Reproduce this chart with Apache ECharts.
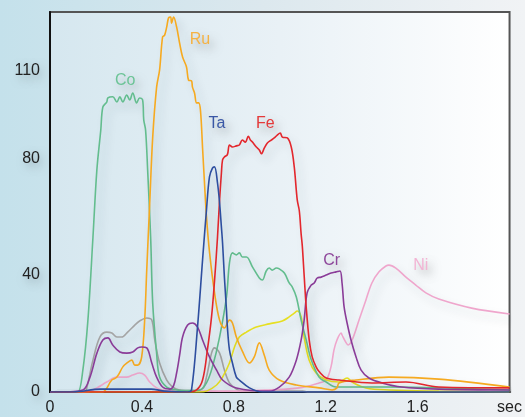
<!DOCTYPE html>
<html>
<head>
<meta charset="utf-8">
<script src="https://cdn.jsdelivr.net/npm/echarts@6/dist/echarts.min.js"></script>
<style>
html,body{margin:0;padding:0;}
#chart{width:525px;height:417px;}
</style>
</head>
<body>
<div id="chart"></div>
<script>
// x: seconds, y: signal
const xTickLabels = ['0', '0.4', '0.8', '1.2', '1.6', 'sec'];
const yTickLabels = [0, 40, 80, 110];

const grayData = [[0,0],[0.15,0],[0.161,1.7],[0.187,10.9],[0.217,18.8],[0.247,20.5],[0.269,20.2],[0.291,18.8],[0.312,18.8],[0.338,20.5],[0.369,22.9],[0.390,24.3],[0.421,25.3],[0.443,24.6],[0.456,17.8],[0.477,9.9],[0.508,4.1],[0.534,1.7],[0.564,0.7],[0.62,0.5],[0.664,1.2],[0.681,5.1],[0.703,13.3],[0.716,15.1],[0.738,13.3],[0.759,7.5],[0.781,3.1],[0.811,1.0],[0.837,0.3],[1.1,0.3],[1.12,0],[2.0,0]];

const niData = [[0,0],[0.16,0],[0.204,1.4],[0.247,3.4],[0.291,5.1],[0.334,5.1],[0.360,5.8],[0.390,6.5],[0.412,5.8],[0.434,3.4],[0.464,1.4],[0.490,0.7],[0.55,0.3],[0.8,0.3],[0.95,0.7],[1.085,1.4],[1.171,3.1],[1.202,4.1],[1.223,8.6],[1.236,14.4],[1.249,17.8],[1.267,20.2],[1.271,19.5],[1.289,16.8],[1.297,16.1],[1.315,17.8],[1.345,24.6],[1.375,31.5],[1.401,37.3],[1.432,41.1],[1.462,43.1],[1.475,43.4],[1.505,42.4],[1.549,39.3],[1.592,36.6],[1.636,33.9],[1.692,31.8],[1.835,28.7],[2.0,26.7]];

const yellowData = [[0,0],[0.65,0],[0.681,0.3],[0.725,2.4],[0.751,5.1],[0.781,9.9],[0.803,15.4],[0.824,18.8],[0.855,20.5],[0.898,22.2],[0.954,23.3],[1.011,24.3],[1.041,25.7],[1.063,27.0],[1.076,27.7],[1.093,25.7],[1.106,18.8],[1.128,10.9],[1.158,6.5],[1.202,4.1],[1.258,3.4],[1.293,4.8],[1.315,3.4],[1.375,1.4],[1.475,0.7],[1.692,0.3],[2.0,0]];

const coData = [[0,0],[0.10,0],[0.121,0],[0.143,7.5],[0.165,24.6],[0.187,53.0],[0.204,76.0],[0.221,89.6],[0.230,97.5],[0.247,99.2],[0.252,100.6],[0.273,101.0],[0.291,99.2],[0.304,101.0],[0.317,99.2],[0.334,101.6],[0.347,99.9],[0.360,102.3],[0.377,98.9],[0.390,100.6],[0.403,99.9],[0.408,93.1],[0.416,89.6],[0.425,75.9],[0.438,53.0],[0.447,30.4],[0.464,13.3],[0.477,5.1],[0.508,1.7],[0.551,0.7],[0.60,0.5],[0.65,0.6],[0.681,3.1],[0.707,8.6],[0.738,18.8],[0.768,32.5],[0.781,44.1],[0.794,47.6],[0.811,46.9],[0.824,47.6],[0.837,46.2],[0.855,46.2],[0.881,42.8],[0.911,39.0],[0.924,38.3],[0.941,41.4],[0.954,42.4],[0.967,41.7],[0.985,42.4],[0.998,42.1],[1.020,40.7],[1.041,37.3],[1.054,36.0],[1.072,32.5],[1.093,24.6],[1.115,17.8],[1.137,11.0],[1.171,5.1],[1.202,3.4],[1.245,1.7],[1.332,1.7],[1.475,1.7],[2.0,0.7]];

const ruData = [[0,0],[0.226,0],[0.269,4.1],[0.291,5.1],[0.317,8.6],[0.334,9.9],[0.356,10.9],[0.369,9.2],[0.382,9.2],[0.399,12.0],[0.412,24.6],[0.421,41.7],[0.434,64.7],[0.447,87.2],[0.464,104.3],[0.477,110.2],[0.490,121.5],[0.499,122.1],[0.508,124.9],[0.516,128.0],[0.525,128.3],[0.529,126.2],[0.538,128.3],[0.551,124.9],[0.564,119.4],[0.577,114.6],[0.594,111.2],[0.603,106.7],[0.616,106.4],[0.620,104.3],[0.629,102.3],[0.638,98.9],[0.647,98.9],[0.655,96.2],[0.664,83.5],[0.672,72.0],[0.681,60.0],[0.694,48.0],[0.716,34.0],[0.738,24.6],[0.759,21.9],[0.781,24.6],[0.794,23.6],[0.811,18.8],[0.837,14.0],[0.868,9.9],[0.889,12.0],[0.911,16.8],[0.933,12.5],[0.954,7.5],[0.998,4.1],[1.072,2.4],[1.171,1.4],[1.228,0.7],[1.249,1.4],[1.258,3.1],[1.332,4.1],[1.475,5.1],[1.692,4.4],[2.0,1.7]];

const crData = [[0,0],[0.043,0],[0.143,0.7],[0.174,5.1],[0.204,13.3],[0.230,17.8],[0.252,18.5],[0.273,16.1],[0.304,13.7],[0.334,13.3],[0.360,13.7],[0.382,15.1],[0.399,15.4],[0.421,15.1],[0.443,9.9],[0.464,5.1],[0.490,1.7],[0.521,1.0],[0.538,2.2],[0.551,6.5],[0.564,12.5],[0.577,18.8],[0.599,22.9],[0.620,23.6],[0.642,22.2],[0.664,17.8],[0.694,12.0],[0.725,7.5],[0.751,4.1],[0.811,1.4],[0.954,0.3],[0.998,1.7],[1.041,5.1],[1.072,10.9],[1.093,17.8],[1.106,24.6],[1.119,33.9],[1.137,36.6],[1.150,37.3],[1.163,39.0],[1.180,39.3],[1.202,40.0],[1.223,40.7],[1.245,41.1],[1.262,41.4],[1.271,37.3],[1.280,29.1],[1.293,23.6],[1.310,17.8],[1.332,12.0],[1.354,7.5],[1.388,4.8],[1.445,3.1],[1.531,1.7],[1.692,1.0],[2.0,0.7]];

const feData = [[0,0],[0.60,0],[0.638,0.7],[0.664,4.1],[0.685,14.4],[0.703,25.7],[0.716,38.0],[0.729,53.0],[0.738,65.7],[0.746,74.9],[0.751,79.4],[0.759,80.4],[0.772,81.2],[0.781,84.5],[0.794,83.8],[0.811,84.2],[0.824,84.5],[0.837,86.2],[0.850,85.5],[0.863,87.5],[0.872,86.2],[0.881,85.5],[0.898,83.8],[0.911,82.8],[0.920,81.5],[0.933,83.5],[0.946,85.2],[0.963,86.2],[0.976,86.9],[0.989,87.9],[1.002,88.6],[1.011,87.2],[1.033,86.9],[1.050,83.8],[1.063,77.0],[1.076,65.7],[1.085,62.0],[1.093,54.0],[1.098,50.0],[1.106,40.0],[1.115,29.1],[1.128,17.8],[1.141,12.0],[1.158,8.6],[1.171,7.0],[1.202,4.8],[1.258,4.1],[1.401,3.1],[1.549,3.4],[1.692,1.7],[2.0,1.4]];

const taData = [[0,0],[0.10,0],[0.22,1.0],[0.44,1.0],[0.50,0.3],[0.60,0],[0.616,0.7],[0.642,22.2],[0.664,45.2],[0.681,62.3],[0.694,73.6],[0.707,76.6],[0.716,77.0],[0.729,71.5],[0.738,64.7],[0.746,56.4],[0.751,51.0],[0.759,39.3],[0.768,28.1],[0.772,22.2],[0.781,14.4],[0.794,9.9],[0.811,5.1],[0.824,4.1],[0.868,1.4],[0.924,0],[2.0,0]];

const seriesNames = ['', 'Ni', '', 'Co', 'Ru', 'Cr', 'Fe', 'Ta'];
const seriesColors = ['#a5a5a5', '#efa6cc', '#e6df22', '#63bd8e', '#f6aa20', '#8a3c98', '#e3272d', '#2d4e9f'];
const labelColors = ['#a5a5a5', '#f2b4d4', '#e6df22', '#6cc497', '#f5b244', '#8e479b', '#e43a3a', '#3a58a6'];
const seriesData = [grayData, niData, yellowData, coData, ruData, crData, feData, taData];
// label anchor points (sec, value)
const labelAnchors = [null, [1.614, 43.4], null, [0.327, 106.4], [0.653, 120.4], [1.226, 44.8], [0.937, 91.9], [0.727, 91.9]];

const chart = echarts.init(document.getElementById('chart'), null, {renderer: 'canvas'});

const series = seriesData.map((d, i) => {
  const s = {
    type: 'line',
    name: seriesNames[i] || ('s' + i),
    data: d,
    showSymbol: false,
    smooth: 0.35,
    lineStyle: {
      color: seriesColors[i], width: 1.6,
      shadowColor: 'rgba(40,50,60,0.18)', shadowBlur: 10, shadowOffsetX: 5, shadowOffsetY: 6
    },
    itemStyle: {color: seriesColors[i]},
    z: 2 + i
  };
  if (labelAnchors[i]) {
    s.markPoint = {
      symbol: 'circle', symbolSize: 0, silent: true,
      data: [{coord: labelAnchors[i]}],
      label: {
        show: true, position: 'inside', formatter: seriesNames[i],
        color: labelColors[i], fontSize: 16, fontFamily: 'Liberation Sans, Arial, sans-serif',
        textShadowColor: 'rgba(0,0,0,0.28)', textShadowBlur: 8, textShadowOffsetX: 4, textShadowOffsetY: 5
      }
    };
  }
  return s;
});

const option = {
  animation: false,
  backgroundColor: new echarts.graphic.LinearGradient(0, 0, 1, 0, [
    {offset: 0, color: '#c4e1eb'},
    {offset: 0.5, color: '#dce8ee'},
    {offset: 1, color: '#f1f3f5'}
  ]),
  grid: {
    left: 50, right: 14, top: 12, bottom: 25,
    show: true,
    borderColor: '#555', borderWidth: 2,
    backgroundColor: new echarts.graphic.LinearGradient(0, 0, 1, 0, [
      {offset: 0, color: '#d5e7ef'},
      {offset: 0.5, color: '#e9f1f6'},
      {offset: 1, color: '#ffffff'}
    ])
  },
  xAxis: {
    type: 'value', min: 0, max: 2, interval: 0.4,
    axisLine: {show: true, lineStyle: {color: '#111', width: 2}},
    axisTick: {show: false},
    splitLine: {show: false},
    axisLabel: {
      color: '#222', fontSize: 16, margin: 8, fontFamily: 'Liberation Sans, Arial, sans-serif',
      showMaxLabel: true,
      formatter: v => xTickLabels[Math.round(v / 0.4)] || ''
    }
  },
  yAxis: {
    type: 'value', min: 0, max: 130, interval: 10,
    axisLine: {show: true, lineStyle: {color: '#111', width: 2}},
    axisTick: {show: false},
    splitLine: {show: false},
    axisLabel: {
      color: '#222', fontSize: 16, margin: 10, fontFamily: 'Liberation Sans, Arial, sans-serif',
      textShadowColor: 'rgba(0,0,0,0.25)', textShadowBlur: 8, textShadowOffsetX: 3, textShadowOffsetY: 4,
      formatter: v => yTickLabels.indexOf(Math.round(v)) >= 0 ? String(Math.round(v)) : ''
    }
  },
  series: series
};
chart.setOption(option);
</script>
</body>
</html>
